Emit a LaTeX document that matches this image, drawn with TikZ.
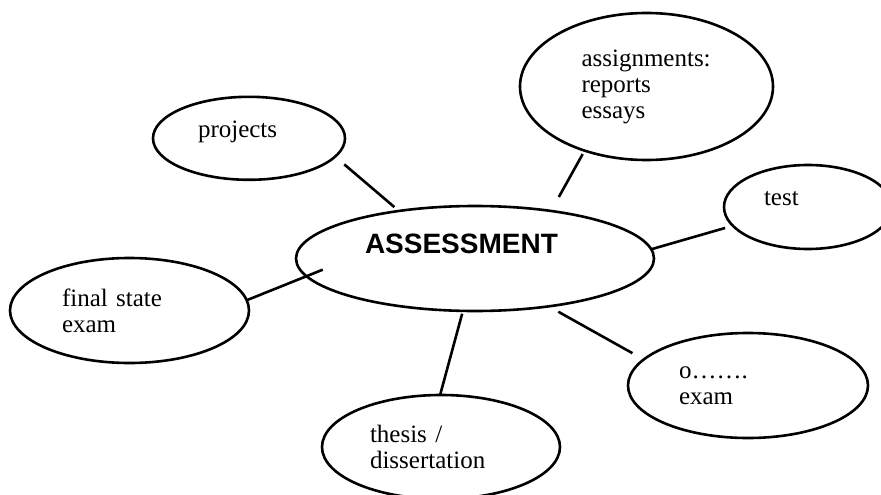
\documentclass[tikz,border=0pt]{standalone}
\usepackage{fontspec}
\setmainfont{Liberation Serif}
\setsansfont{Liberation Sans}
\usepackage{tikz}
\usetikzlibrary{shapes.geometric}

\begin{document}
\begin{tikzpicture}[x = 1pt, y = -1pt,
        bubble/.style = {ellipse, draw = black, line width = 2.6pt, inner sep = 0pt, outer sep = 0pt,
            align = left, font = \fontsize{25}{26}\selectfont},
        link/.style = {line width = 2.6pt}]
        \clip (0,0) rectangle (881,495);

        \node (main_oval)[bubble, minimum width = 358pt, minimum height = 105pt]
        [text width = 220pt, text height = 20pt, text depth = 31pt,
         font = \sffamily\bfseries\fontsize{28}{28}\selectfont] at (475,258.5) {ASSESSMENT};

        \node (proj_oval)[bubble, minimum width = 192pt, minimum height = 83pt]
        [text width = 102pt, text height = 17pt, text depth = 19.6pt] at (249,138.3) {projects};
        \node (assign_oval)[bubble, minimum width = 253pt, minimum height = 147pt]
        [text width = 130pt] at (646.5,86.5) {assignments:\\reports\\essays};
        \node (test_oval)[bubble, minimum width = 168pt, minimum height = 84pt]
        [text width = 88pt, text height = 14.5pt, text depth = 18.5pt] at (808,207) {test};
        \node (final_oval)[bubble, minimum width = 239pt, minimum height = 105pt]
        [text width = 135pt] at (129.5,310.5) {final state\\exam};
        \node (thesis_oval)[bubble, minimum width = 238pt, minimum height = 104pt]
        [text width = 142pt] at (441,447) {thesis /\\dissertation};
        \node (exam_oval)[bubble, minimum width = 240pt, minimum height = 105pt]
        [text width = 138pt] at (748,385.5) {o……. \\exam};

        \path(proj_oval.-12) edge[link, shorten <= 12pt, shorten >= 6pt] (main_oval.148.5);
        \path(assign_oval.-134) edge[link, shorten <= 4pt, shorten >= 16pt] (main_oval.32.5);
        \path(test_oval.-166) edge[link, shorten <= 8pt] (main_oval.3);
        \path(final_oval.5) edge[link, shorten >= -17.5pt] (main_oval.-174);
        \path(main_oval.-103) edge[link, shorten <= 3pt] (thesis_oval.91);
        \path(main_oval.-33.6) edge[link, shorten <= 11pt, shorten >= 13pt] (exam_oval.166.6);
    \end{tikzpicture}
\end{document}
